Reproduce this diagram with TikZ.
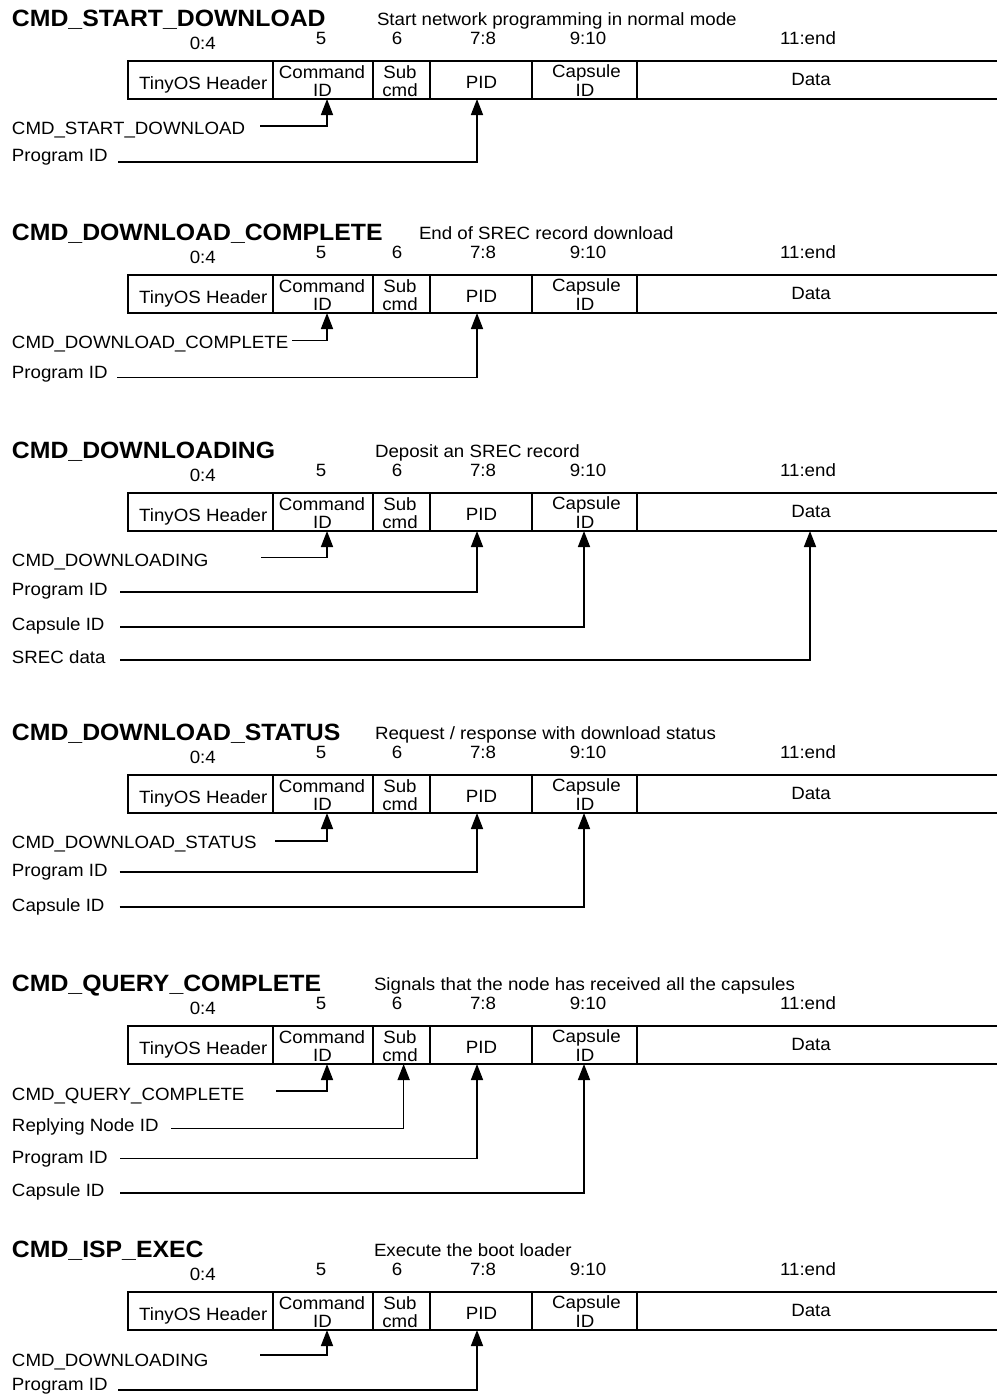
\documentclass[tikz,border=0pt]{standalone}
\usepackage{fontspec}
\setmainfont{Liberation Sans}
\usetikzlibrary{arrows.meta}
\newcommand{\vsq}[1]{\scalebox{1}[0.95]{#1}}
\tikzset{
  txt/.style={inner sep=0pt, outer sep=0pt, font=\fontsize{18.7}{20}\selectfont},
  ttl/.style={inner sep=0pt, outer sep=0pt, font=\fontsize{24.8}{26}\selectfont\bfseries},
  fld/.style={draw, line width=1.6pt, minimum height=38pt, inner sep=0pt, outer sep=0pt},
  openfld/.style={minimum height=38pt, inner sep=0pt, outer sep=0pt},
  arr/.style={line width=1.6pt, -{Triangle[length=16pt,width=12pt]}},
  rule/.style={line width=1.6pt},
}
% #1 prefix, #2 vertical offset, #3 title, #4 description x, #5 description
\newcommand{\pkt}[5]{%
  \node[ttl, anchor=base west] (#1title) at (12,{-26-#2}) {\vsq{#3}};
  \node[txt, anchor=base west] (#1desc) at (#4,{-25.5-#2}) {\vsq{#5}};
  \node[txt, anchor=base] (#1b0) at (202.8,{-49-#2}) {\vsq{0:4}};
  \node[txt, anchor=base] (#1b1) at (321,{-44-#2}) {\vsq{5}};
  \node[txt, anchor=base] (#1b2) at (397,{-44-#2}) {\vsq{6}};
  \node[txt, anchor=base] (#1b3) at (483,{-44-#2}) {\vsq{7:8}};
  \node[txt, anchor=base] (#1b4) at (588,{-44-#2}) {\vsq{9:10}};
  \node[txt, anchor=base] (#1b5) at (808,{-44-#2}) {\vsq{11:end}};
  \node[fld, minimum width=145.3pt] (#1hdr) at (200.35,{-80-#2}) {};
  \node[fld, minimum width=99.7pt] (#1cmd) at (322.85,{-80-#2}) {};
  \node[fld, minimum width=57.3pt] (#1sub) at (401.35,{-80-#2}) {};
  \node[fld, minimum width=102pt] (#1pid) at (481,{-80-#2}) {};
  \node[fld, minimum width=105pt] (#1cap) at (584.5,{-80-#2}) {};
  \node[openfld, minimum width=360pt] (#1data) at (817,{-80-#2}) {};
  \draw[rule] (#1data.north west) -- (#1data.north east)
              (#1data.south west) -- (#1data.south east);
  \node[txt, anchor=base] (#1hdrT) at (203.3,{-89-#2}) {\vsq{TinyOS Header}};
  \node[txt, anchor=base] (#1cmdT) at (322,{-78-#2}) {\vsq{Command}};
  \node[txt, anchor=base] (#1cmdU) at (322.5,{-96.5-#2}) {\vsq{ID}};
  \node[txt, anchor=base] (#1subT) at (400,{-78-#2}) {\vsq{Sub}};
  \node[txt, anchor=base] (#1subU) at (400,{-96.5-#2}) {\vsq{cmd}};
  \node[txt, anchor=base] (#1pidT) at (481.5,{-88.5-#2}) {\vsq{PID}};
  \node[txt, anchor=base] (#1capT) at (586.5,{-77-#2}) {\vsq{Capsule}};
  \node[txt, anchor=base] (#1capU) at (585,{-96.5-#2}) {\vsq{ID}};
  \node[txt, anchor=base] (#1dataT) at (811,{-85-#2}) {\vsq{Data}};
}
\begin{document}
\begin{tikzpicture}[x=1pt,y=1pt]
\useasboundingbox (0,0) rectangle (997,-1395);
\fill[white] (0,0) rectangle (997,-1395);

% ---------- Section 1
\pkt{a}{0}{CMD\_START\_DOWNLOAD}{377}{Start network programming in normal mode}
\node[txt, anchor=base west] (aL1) at (12,-134) {\vsq{CMD\_START\_DOWNLOAD}};
\coordinate (aC1) at (260,-126);
\draw[arr] (aC1) -| ([xshift=4.15pt]acmd.south);
\node[txt, anchor=base west] (aL2) at (12,-161) {\vsq{Program ID}};
\coordinate (aC2) at (118,-162);
\draw[arr] (aC2) -| ([xshift=-4pt]apid.south);

% ---------- Section 2
\pkt{b}{214}{CMD\_DOWNLOAD\_COMPLETE}{419}{End of SREC record download}
\node[txt, anchor=base west] (bL1) at (12,-348) {\vsq{CMD\_DOWNLOAD\_COMPLETE}};
\coordinate (bC1) at (292,-340.5);
\draw[arr] (bC1) -| ([xshift=4.15pt]bcmd.south);
\node[txt, anchor=base west] (bL2) at (12,-378) {\vsq{Program ID}};
\coordinate (bC2) at (117,-377.5);
\draw[arr] (bC2) -| ([xshift=-4pt]bpid.south);

% ---------- Section 3
\pkt{c}{432}{CMD\_DOWNLOADING}{375}{Deposit an SREC record}
\node[txt, anchor=base west] (cL1) at (12,-566) {\vsq{CMD\_DOWNLOADING}};
\coordinate (cC1) at (261,-557.3);
\draw[arr] (cC1) -| ([xshift=4.15pt]ccmd.south);
\node[txt, anchor=base west] (cL2) at (12,-595) {\vsq{Program ID}};
\coordinate (cC2) at (120,-591.7);
\draw[arr] (cC2) -| ([xshift=-4pt]cpid.south);
\node[txt, anchor=base west] (cL3) at (12,-630) {\vsq{Capsule ID}};
\coordinate (cC3) at (120,-626.7);
\draw[arr] (cC3) -| ([xshift=-0.5pt]ccap.south);
\node[txt, anchor=base west] (cL4) at (12,-663) {\vsq{SREC data}};
\coordinate (cC4) at (120,-660);
\draw[arr] (cC4) -| ([xshift=-7pt]cdata.south);

% ---------- Section 4
\pkt{d}{714}{CMD\_DOWNLOAD\_STATUS}{375}{Request / response with download status}
\node[txt, anchor=base west] (dL1) at (12,-848) {\vsq{CMD\_DOWNLOAD\_STATUS}};
\coordinate (dC1) at (275,-840.7);
\draw[arr] (dC1) -| ([xshift=4.15pt]dcmd.south);
\node[txt, anchor=base west] (dL2) at (12,-876.5) {\vsq{Program ID}};
\coordinate (dC2) at (119.6,-871.7);
\draw[arr] (dC2) -| ([xshift=-4pt]dpid.south);
\node[txt, anchor=base west] (dL3) at (12,-911.5) {\vsq{Capsule ID}};
\coordinate (dC3) at (119.6,-906.7);
\draw[arr] (dC3) -| ([xshift=-0.5pt]dcap.south);

% ---------- Section 5
\pkt{e}{965}{CMD\_QUERY\_COMPLETE}{374}{Signals that the node has received all the capsules}
\node[txt, anchor=base west] (eL1) at (12,-1100) {\vsq{CMD\_QUERY\_COMPLETE}};
\coordinate (eC1) at (276,-1091);
\draw[arr] (eC1) -| ([xshift=4.15pt]ecmd.south);
\node[txt, anchor=base west] (eL2) at (12,-1131) {\vsq{Replying Node ID}};
\coordinate (eC2) at (171,-1128.3);
\draw[arr] (eC2) -| ([xshift=2.3pt]esub.south);
\node[txt, anchor=base west] (eL3) at (12,-1163) {\vsq{Program ID}};
\coordinate (eC3) at (120,-1158.3);
\draw[arr] (eC3) -| ([xshift=-4pt]epid.south);
\node[txt, anchor=base west] (eL4) at (12,-1196.5) {\vsq{Capsule ID}};
\coordinate (eC4) at (120,-1192.7);
\draw[arr] (eC4) -| ([xshift=-0.5pt]ecap.south);

% ---------- Section 6
\pkt{f}{1231}{CMD\_ISP\_EXEC}{374}{Execute the boot loader}
\node[txt, anchor=base west] (fL1) at (12,-1366) {\vsq{CMD\_DOWNLOADING}};
\coordinate (fC1) at (260,-1355);
\draw[arr] (fC1) -| ([xshift=4.15pt]fcmd.south);
\node[txt, anchor=base west] (fL2) at (12,-1390) {\vsq{Program ID}};
\coordinate (fC2) at (118,-1390);
\draw[arr] (fC2) -| ([xshift=-4pt]fpid.south);
\end{tikzpicture}
\end{document}
